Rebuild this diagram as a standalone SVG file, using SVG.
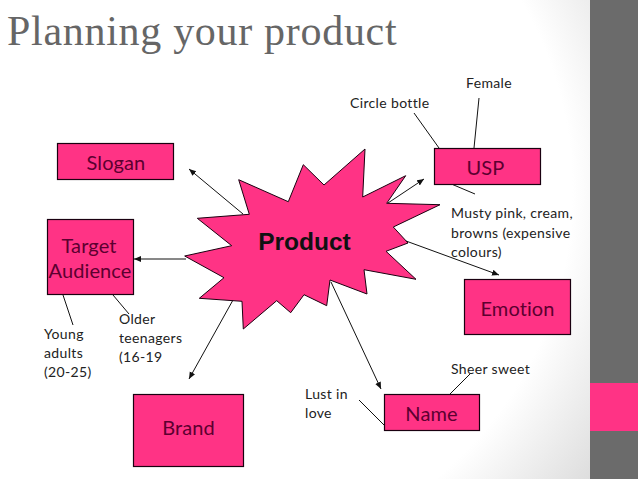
<svg xmlns="http://www.w3.org/2000/svg" width="638" height="479" viewBox="0 0 638 479">
<style>
text{font-family:Lato,"Liberation Sans",sans-serif}
.box{fill:#ff3385;stroke:#1a0010;stroke-width:1.2}
.lbl{font-size:20px;fill:#5c0030;text-anchor:middle;letter-spacing:.1px}
.note{font-size:14px;fill:#222;letter-spacing:.35px}
.c{stroke:#111;stroke-width:1;fill:none}
.a{marker-end:url(#ah)}
</style>
<defs>
<marker id="ah" markerUnits="userSpaceOnUse" markerWidth="8" markerHeight="8" refX="7" refY="3" orient="auto"><path d="M0 0L7 3L0 6Z" fill="#111"/></marker>
<radialGradient id="bg" gradientUnits="userSpaceOnUse" cx="200" cy="190" r="490"><stop offset=".76" stop-color="#fff"/><stop offset="1" stop-color="#dcdcdc"/></radialGradient>
</defs>
<rect width="638" height="479" fill="url(#bg)"/>
<rect x="590" width="48" height="479" fill="#6b6b6b"/>
<rect id="accent" x="590" y="383" width="48" height="48" fill="#ff3385"/>
<text x="7" y="45" font-size="42" fill="#666" letter-spacing=".7" style="font-family:'Liberation Serif',serif">Planning your product</text>
<g id="connectors">
<path class="c a" d="M243 214L189 169"/>
<path class="c a" d="M388 203L424 179"/>
<path class="c a" d="M406 241L499 275"/>
<path class="c a" d="M331 282L381 389"/>
<path class="c a" d="M233 300L189 379"/>
<path class="c a" d="M186 259L134 259"/>
<path class="c" d="M414 113L439 148"/>
<path class="c" d="M479 98L474 148"/>
<path class="c" d="M449 183L475 194"/>
<path class="c" d="M63 295L73 325"/>
<path class="c" d="M113 295L129 314"/>
<path class="c" d="M359 400L384 425"/>
<path class="c" d="M450 394L470 374"/>
</g>
<g id="product"><polygon points="365,149 362.7,197 405.7,175.7 386.7,203.3 440,204.7 393.3,227 408,243 386,251.3 416,279.3 364,269.7 367,294 330,280 326.7,305.7 304,294.7 290.7,312.7 276.7,300.7 243.3,329 242,301.3 199.3,298.3 224,277.7 184.7,256 231.7,245.7 197.3,218.3 249.3,214.3 238.7,179.7 288.3,201.7 303.3,164.7 324,185" fill="#ff3385" stroke="#1a0010" stroke-width="1"/>
<text x="304.500" y="250" font-size="24.500" font-weight="700" text-anchor="middle" fill="#111" style="font-family:'Liberation Sans',sans-serif">Product</text></g>
<g id="slogan"><rect class="box" x="57.5" y="143.5" width="116" height="36"/><text class="lbl" x="116" y="170">Slogan</text></g>
<g id="usp"><rect class="box" x="434.5" y="148.5" width="106" height="36"/><text class="lbl" x="485.500" y="175">USP</text></g>
<g id="target"><rect class="box" x="47.5" y="219.5" width="86" height="75"/><text class="lbl" x="89" y="253">Target</text><text class="lbl" x="90" y="278">Audience</text></g>
<g id="emotion"><rect class="box" x="464.5" y="279.5" width="106" height="55"/><text class="lbl" x="517.500" y="316">Emotion</text></g>
<g id="name"><rect class="box" x="384.5" y="394.5" width="95" height="36"/><text class="lbl" x="431.500" y="421">Name</text></g>
<g id="brand"><rect class="box" x="133.5" y="394.5" width="110" height="72"/><text class="lbl" x="188.500" y="435">Brand</text></g>
<g id="notes">
<text class="note" x="350" y="108">Circle bottle</text>
<text class="note" x="466" y="88">Female</text>
<text class="note" x="451" y="218">Musty pink, cream,</text>
<text class="note" x="451" y="238">browns (expensive</text>
<text class="note" x="451" y="257">colours)</text>
<text class="note" x="44" y="339">Young</text>
<text class="note" x="44" y="358">adults</text>
<text class="note" x="44" y="377">(20-25)</text>
<text class="note" x="119" y="324">Older</text>
<text class="note" x="119" y="343">teenagers</text>
<text class="note" x="119" y="362">(16-19</text>
<text class="note" x="451" y="374">Sheer sweet</text>
<text class="note" x="305" y="399">Lust in</text>
<text class="note" x="305" y="418">love</text>
</g>
</svg>
